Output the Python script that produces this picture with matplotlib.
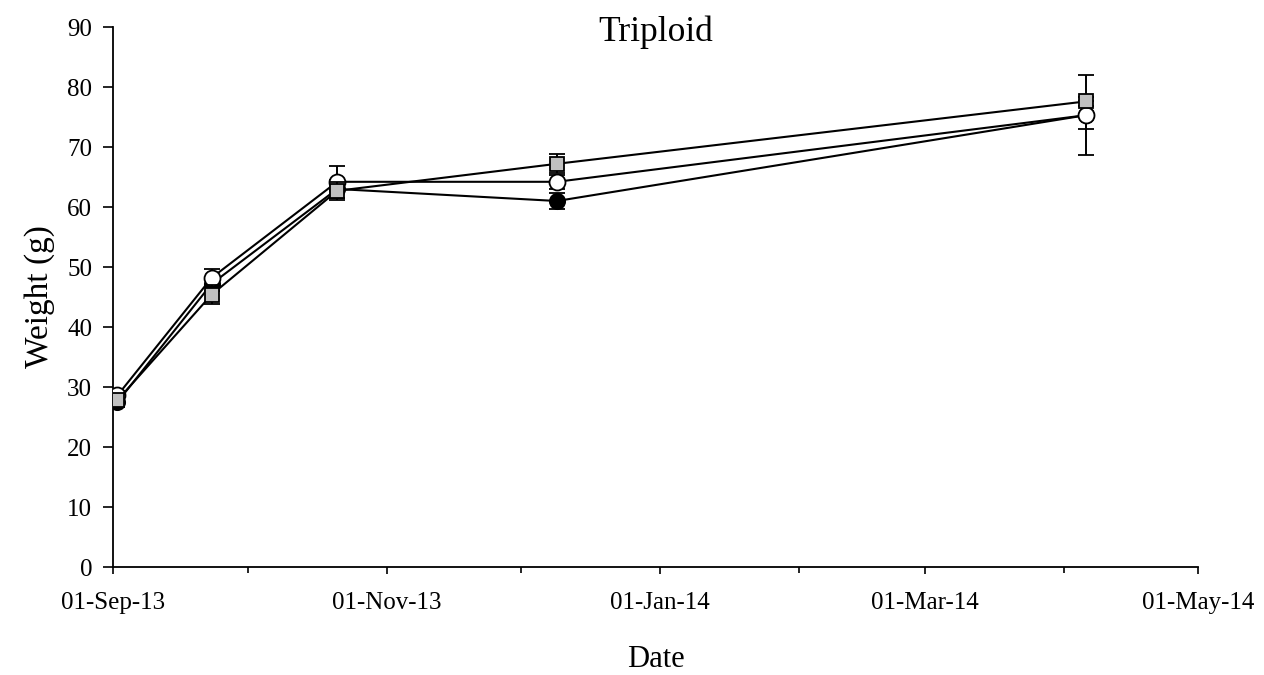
import matplotlib.pyplot as plt
import matplotlib.dates as mdates
import pandas as pd

plt.rcParams['font.family'] = ['Liberation Serif', 'DejaVu Serif']

# sampling dates
dates = pd.to_datetime(['2013-09-02', '2013-09-23', '2013-10-21', '2013-12-09', '2014-04-06'])

# three groups (black circles, white circles, grey squares)
black_mean = [27.5, 47.2, 63.0, 61.0, 75.3]
black_err = [0.8, 1.2, 1.5, 1.4, 6.7]
white_mean = [28.6, 48.2, 64.2, 64.2, 75.3]
white_err = [0.8, 1.5, 2.7, 1.2, 2.3]
grey_mean = [27.8, 45.4, 62.7, 67.2, 77.6]
grey_err = [1.0, 1.6, 1.5, 1.6, 0.8]

fig = plt.figure(figsize=(12.64, 6.75), dpi=100)
ax = fig.add_axes([0.0894, 0.16, 0.8585, 0.80])

kw = dict(color='black', linewidth=1.5, capsize=6, elinewidth=1.4, capthick=1.4,
          markeredgecolor='black', markeredgewidth=1.3)
ax.errorbar(dates, black_mean, yerr=black_err, fmt='-o', markerfacecolor='black',
            markersize=11, zorder=2, **kw)
ax.errorbar(dates, white_mean, yerr=white_err, fmt='-o', markerfacecolor='white',
            markersize=11.5, zorder=3, **kw)
ax.errorbar(dates, grey_mean, yerr=grey_err, fmt='-s', markerfacecolor='#c0c0c0',
            markersize=10, zorder=4, **kw)

ax.set_xlim(pd.Timestamp('2013-09-01'), pd.Timestamp('2014-05-01'))
ax.set_ylim(0, 90)
ax.set_yticks(range(0, 91, 10))
ax.xaxis.set_major_locator(mdates.MonthLocator(bymonth=[1, 3, 5, 9, 11]))
ax.xaxis.set_minor_locator(mdates.MonthLocator(bymonth=[2, 4, 10, 12]))
ax.xaxis.set_major_formatter(mdates.DateFormatter('%d-%b-%y'))

for side in ['top', 'right']:
    ax.spines[side].set_visible(False)
for side in ['left', 'bottom']:
    ax.spines[side].set_linewidth(1.3)
ax.tick_params(axis='both', which='both', direction='out', width=1.2, labelsize=18)
ax.tick_params(axis='y', which='major', length=7, pad=8)
ax.tick_params(axis='x', which='major', length=5, pad=13)
ax.tick_params(axis='x', which='minor', length=4.5)

ax.set_xlabel('Date', fontsize=22, labelpad=22)
ax.set_ylabel('Weight (g)', fontsize=24, labelpad=9)
ax.text(0.5, 0.99, 'Triploid', transform=ax.transAxes, ha='center', va='center', fontsize=25.5)

fig.savefig('out.png', dpi=100)
